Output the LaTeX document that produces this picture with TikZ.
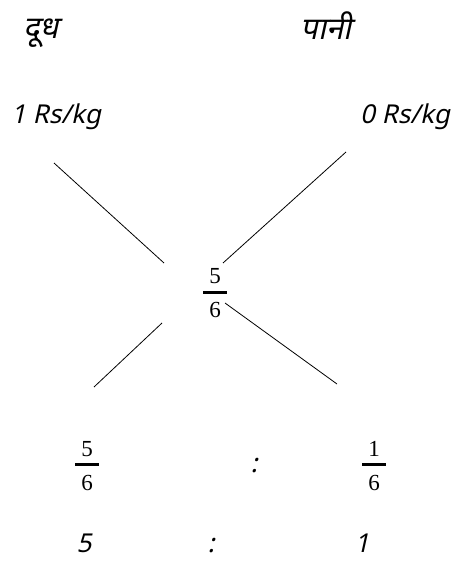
\documentclass[tikz,border=0pt]{standalone}
\usepackage{fontspec}
\setmainfont{Liberation Serif}
\newfontfamily\hand[FakeSlant=0.22]{Noto Sans}
\newfontfamily\handdeva[Script=Devanagari,FakeSlant=0.22]{Noto Sans}
\begin{document}
\begin{tikzpicture}[x=1pt,y=-1pt,
  lbl/.style={inner sep=0pt,font=\hand\fontsize{26}{30}\selectfont},
  dlbl/.style={inner sep=0pt,font=\handdeva\fontsize{31}{34}\selectfont},
  num/.style={inner sep=0pt,anchor=base,font=\fontsize{23}{26}\selectfont},
  bar/.style={line width=3pt},
  cross/.style={line width=0.8pt}]
\useasboundingbox[fill=white] (0,0) rectangle (463,561);
% headings
\node[dlbl] (milk) at (41,33) {दूध};
\node[dlbl] (water) at (326,26) {पानी};
\node[lbl,anchor=base] (pm) at (56,124) {1 Rs/kg};
\node[lbl,anchor=base] (pw) at (405,124) {0 Rs/kg};
% central fraction
\node[num] (cn) at (215,283) {5};
\node[num] (cd) at (215,317) {6};
\draw[bar] (203,292) -- (227,292);
% cross lines
\coordinate (tl1) at (54,163); \coordinate (tl2) at (164,263);
\coordinate (tr1) at (346,152); \coordinate (tr2) at (223,263);
\coordinate (bl1) at (162,323); \coordinate (bl2) at (94,387);
\coordinate (br1) at (225,303); \coordinate (br2) at (337,384);
\draw[cross] (tl1) -- (tl2);
\draw[cross] (tr1) -- (tr2);
\draw[cross] (bl1) -- (bl2);
\draw[cross] (br1) -- (br2);
% bottom fractions
\node[num] (ln) at (87,456) {5};
\node[num] (ld) at (87,490) {6};
\draw[bar] (75,464) -- (99,464);
\node[lbl] (c1) at (254,466) {:};
\node[num] (rn) at (374,456) {1};
\node[num] (rd) at (374,490) {6};
\draw[bar] (362,464) -- (386,464);
% ratio
\node[lbl,anchor=base] (r5) at (84,552) {5};
\node[lbl,anchor=base] (rc) at (211,552) {:};
\node[lbl,anchor=base] (r1) at (362,552) {1};
\end{tikzpicture}
\end{document}
